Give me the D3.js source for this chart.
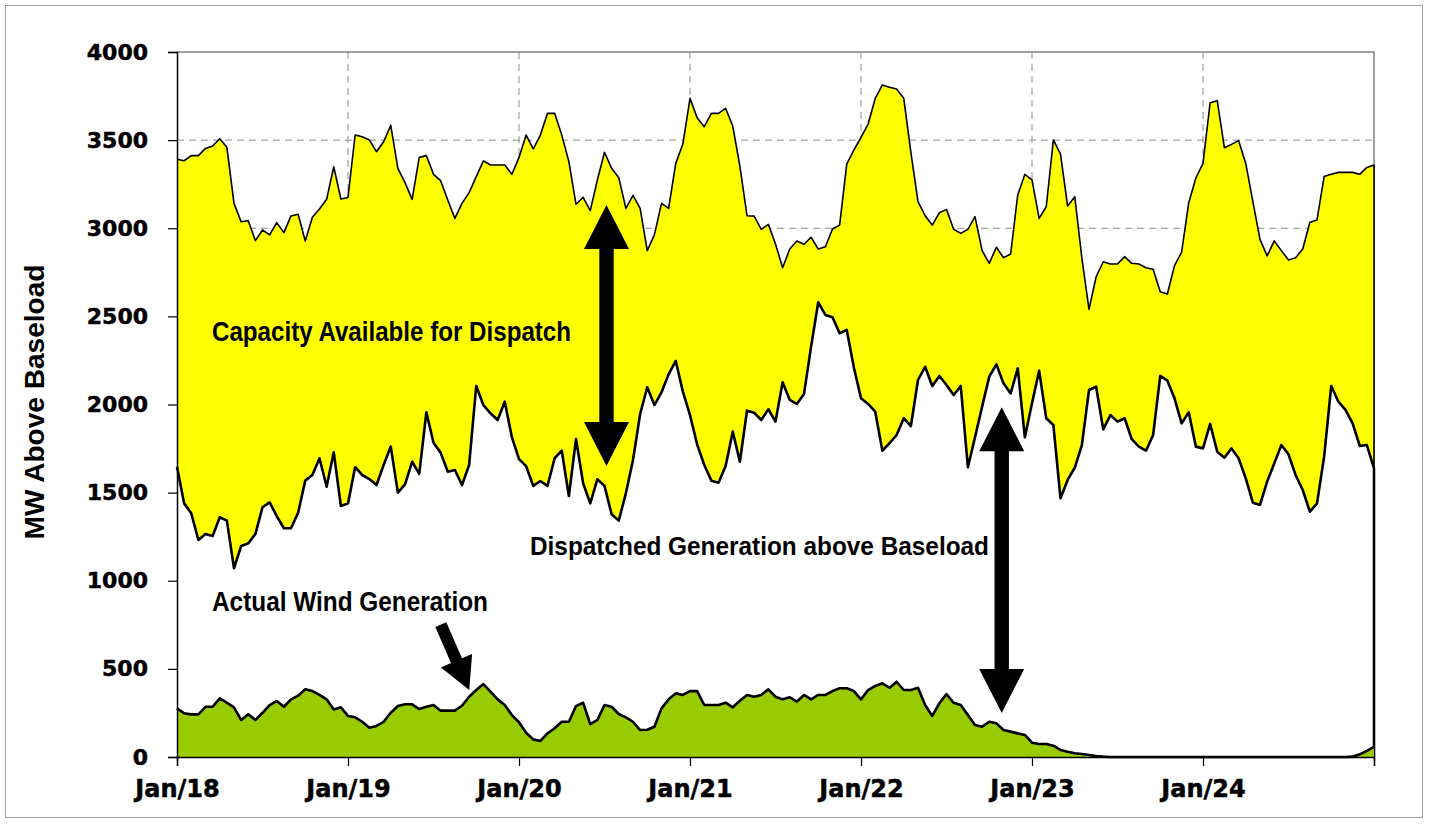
<!DOCTYPE html>
<html><head><meta charset="utf-8">
<script src="https://cdn.jsdelivr.net/npm/d3@7"></script>
<style>body{margin:0;background:#fff;} svg{display:block;}</style>
</head><body><svg id="c" width="1430" height="827"></svg>
<script>
// ---- data (semi-monthly points, Jan 2018 .. Jan 2025) ----
const yearLabels = ["Jan/18","Jan/19","Jan/20","Jan/21","Jan/22","Jan/23","Jan/24"];
const yTicks = [0,500,1000,1500,2000,2500,3000,3500,4000];
const pointsPerYear = 24;

const capacity = [
3391,3383,3412,3412,3453,3467,3508,3459,3141,3037,3043,2930,2990,2962,3032,2975,3070,3079,2928,3062,3109,3164,3349,3166,
3175,3529,3519,3501,3434,3491,3584,3340,3259,3164,3402,3412,3306,3270,3160,3056,3141,3202,3293,3382,3359,3359,3359,3306,
3402,3529,3450,3529,3652,3652,3529,3378,3136,3175,3100,3274,3431,3340,3287,3113,3187,3113,2873,2962,3141,3113,3368,3478,
3737,3627,3576,3652,3652,3680,3580,3353,3071,3069,2994,3022,2911,2776,2882,2928,2909,2949,2882,2895,2996,3018,3364,3444,
3515,3591,3737,3813,3800,3790,3737,3430,3151,3071,3018,3088,3107,2994,2971,2994,3066,2873,2801,2892,2833,2854,3189,3306,
3274,3056,3122,3501,3421,3126,3179,2830,2540,2725,2810,2797,2797,2839,2801,2797,2776,2767,2640,2627,2788,2864,3145,3285,
3368,3712,3724,3457,3476,3497,3368,3151,2937,2843,2928,2873,2820,2833,2882,3034,3047,3293,3306,3317,3317,3317,3306,3345,
3359];

const dispatched = [
1647,1439,1383,1231,1265,1254,1360,1341,1071,1197,1212,1265,1417,1445,1367,1298,1298,1386,1568,1600,1695,1534,1729,1424,
1439,1644,1600,1577,1543,1657,1761,1500,1547,1675,1606,1956,1783,1727,1619,1628,1543,1657,2105,1997,1950,1912,2016,1815,
1690,1650,1538,1566,1538,1695,1738,1481,1804,1553,1439,1576,1538,1377,1341,1496,1685,1946,2098,1997,2069,2171,2247,2073,
1940,1774,1657,1568,1556,1651,1846,1675,1965,1953,1912,1973,1903,2126,2026,2003,2060,2330,2580,2508,2495,2404,2423,2210,
2035,2003,1959,1738,1780,1827,1922,1878,2139,2214,2105,2162,2111,2054,2105,1644,1814,1988,2158,2228,2120,2063,2205,1814,
2007,2192,1922,1884,1468,1572,1641,1770,2082,2101,1859,1940,1903,1922,1803,1761,1738,1827,2162,2135,2035,1893,1956,1761,
1751,1890,1732,1698,1751,1695,1581,1443,1430,1562,1666,1770,1717,1600,1515,1392,1439,1704,2105,2016,1969,1893,1765,1770,
1638];

const wind = [
276,248,242,242,285,285,333,308,282,210,242,210,251,295,318,285,327,348,384,374,352,327,270,282,
233,225,200,166,176,200,251,289,299,299,272,285,295,263,263,263,291,342,380,414,371,327,295,238,
197,138,100,91,134,163,200,200,289,308,187,210,295,285,244,225,200,153,155,172,276,327,361,352,
374,374,295,295,295,308,282,319,352,342,352,384,342,327,339,314,352,327,352,352,374,390,390,374,
327,380,403,418,393,427,380,380,393,295,233,305,357,308,295,238,182,172,200,191,153,144,134,125,
81,74,74,64,40,30,21,17,11,5,2,0,0,0,0,0,0,0,0,0,0,0,0,0,
0,0,0,0,0,0,0,0,0,0,0,0,0,0,0,0,0,0,0,0,0,2,15,35,
58];

// ---- layout ----
const svg = d3.select("#c");
const nLast = capacity.length - 1;
const x = d3.scaleLinear().domain([0, nLast]).range([177, 1374]);
const y = d3.scaleLinear().domain([0, 4000]).range([757, 52]);
const FONT = "'Liberation Sans', Arial, sans-serif";

// outer chart border
svg.append("rect").attr("x",5.5).attr("y",5.5).attr("width",1417).attr("height",812)
  .attr("fill","#fff").attr("stroke","#a0a0a0").attr("stroke-width",1);

// gridlines
const g = svg.append("g");
g.selectAll(".hg").data(yTicks.filter(d=>d>0 && d<4000)).join("line")
  .attr("x1",x(0)).attr("x2",x(nLast)).attr("y1",d=>y(d)).attr("y2",d=>y(d))
  .attr("stroke","#8c8c8c").attr("stroke-width",1).attr("stroke-dasharray","7,5");
const yearIdx = d3.range(1, 7).map(i=>i*pointsPerYear);
g.selectAll(".vg").data(yearIdx).join("line")
  .attr("x1",d=>x(d)).attr("x2",d=>x(d)).attr("y1",y(4000)).attr("y2",y(0))
  .attr("stroke","#8c8c8c").attr("stroke-width",1).attr("stroke-dasharray","7,5");
// plot border top/right
svg.append("path").attr("d",`M${x(0)},${y(4000)}H${x(nLast)}V${y(0)}`)
  .attr("fill","none").attr("stroke","#808080").attr("stroke-width",1.5);

const idx = d3.range(capacity.length);
// yellow band (capacity available)
svg.append("path").datum(idx)
  .attr("d", d3.area().x(i=>x(i)).y0(i=>y(dispatched[i])).y1(i=>y(capacity[i])))
  .attr("fill","#ffff00");
// white area (dispatched)
svg.append("path").datum(idx)
  .attr("d", d3.area().x(i=>x(i)).y0(y(0)).y1(i=>y(dispatched[i])))
  .attr("fill","#ffffff");
// capacity line (with right-edge closure)
const capLine = d3.line().x(i=>x(i)).y(i=>y(capacity[i]));
svg.append("path")
  .attr("d", capLine(idx) + `L${x(nLast)},${y(dispatched[nLast])}`)
  .attr("fill","none").attr("stroke","#000").attr("stroke-width",1.6).attr("stroke-linejoin","round");
// dispatched line (with right-edge closure)
const dispLine = d3.line().x(i=>x(i)).y(i=>y(dispatched[i]));
svg.append("path")
  .attr("d", dispLine(idx) + `L${x(nLast)},${y(0)}`)
  .attr("fill","none").attr("stroke","#000").attr("stroke-width",2.6).attr("stroke-linejoin","round");
// wind
svg.append("path").datum(idx)
  .attr("d", d3.area().x(i=>x(i)).y0(y(0)).y1(i=>y(wind[i])))
  .attr("fill","#99cc00");
const windLine = d3.line().x(i=>x(i)).y(i=>y(wind[i]));
svg.append("path").attr("d", windLine(idx))
  .attr("fill","none").attr("stroke","#000").attr("stroke-width",2.6).attr("stroke-linejoin","round");

// axes
const yAxis = d3.axisLeft(y).tickValues(yTicks).tickSize(9).tickPadding(20).tickFormat(d3.format("d"));
const ya = svg.append("g").attr("transform",`translate(${x(0)},0)`).call(yAxis);
ya.select(".domain").attr("stroke","#000").attr("stroke-width",1.5);
ya.selectAll(".tick line").attr("stroke","#000").attr("stroke-width",1.2);
ya.selectAll(".tick text").attr("font-family","'DejaVu Sans', sans-serif").attr("font-weight","bold")
  .attr("font-size",22).attr("fill","#000").attr("stroke","#000").attr("stroke-width",0.5);

const xTickIdx = d3.range(0, 8).map(i=>i*pointsPerYear);
const xAxis = d3.axisBottom(x).tickValues(xTickIdx).tickSize(9).tickPadding(14)
  .tickFormat((d,i)=> yearLabels[i] || "");
const xa = svg.append("g").attr("transform",`translate(0,${y(0)})`).call(xAxis);
xa.select(".domain").attr("stroke","#000").attr("stroke-width",1.5);
xa.selectAll(".tick line").attr("stroke","#000").attr("stroke-width",1.2);
xa.selectAll(".tick text").attr("font-family","'DejaVu Sans', sans-serif").attr("font-weight","bold")
  .attr("font-size",24).attr("fill","#000").attr("stroke","#000").attr("stroke-width",0.5);

// y title
svg.append("text").attr("transform","translate(44,402) rotate(-90)")
  .attr("text-anchor","middle").attr("font-family",FONT).attr("font-weight","bold")
  .attr("font-size",27).attr("textLength",275).attr("lengthAdjust","spacingAndGlyphs")
  .text("MW Above Baseload");

// annotations
function ann(t, px, py, len, fs){
  svg.append("text").attr("x",px).attr("y",py).attr("font-family",FONT).attr("font-weight","bold")
    .attr("font-size",fs).attr("textLength",len).attr("lengthAdjust","spacingAndGlyphs").text(t);
}
ann("Capacity Available for Dispatch", 212, 341, 359, 27);
ann("Dispatched Generation above Baseload", 530, 555, 459, 26);
ann("Actual Wind Generation", 212, 611, 276, 28);

// arrows (positions in data coordinates)
function arrowPts(S, T, L, hw, sw){
  const dx=T[0]-S[0], dy=T[1]-S[1], len=Math.hypot(dx,dy);
  const ux=dx/len, uy=dy/len, nx=-uy, ny=ux;
  const B=[T[0]-ux*L, T[1]-uy*L];
  return [[S[0]+nx*sw,S[1]+ny*sw],[B[0]+nx*sw,B[1]+ny*sw],[B[0]+nx*hw,B[1]+ny*hw],T,
          [B[0]-nx*hw,B[1]-ny*hw],[B[0]-nx*sw,B[1]-ny*sw],[S[0]-nx*sw,S[1]-ny*sw]];
}
function dblArrow(xi, vTop, vBot){
  const cx=x(xi), t=y(vTop), b=y(vBot), L=44, hw=22.5, sw=7.2;
  const pts=[[cx,t],[cx+hw,t+L],[cx+sw,t+L],[cx+sw,b-L],[cx+hw,b-L],[cx,b],[cx-hw,b-L],[cx-sw,b-L],[cx-sw,t+L],[cx-hw,t+L]];
  svg.append("polygon").attr("points",pts.map(p=>p.join(",")).join(" ")).attr("fill","#000");
}
dblArrow(60.28, 3132, 1651);
dblArrow(115.75, 1985, 250);
const dA = arrowPts([x(37.03), y(751)], [x(41.02), y(380)], 32, 17, 6);
svg.append("polygon").attr("points",dA.map(p=>p.join(",")).join(" ")).attr("fill","#000");
</script></body></html>
